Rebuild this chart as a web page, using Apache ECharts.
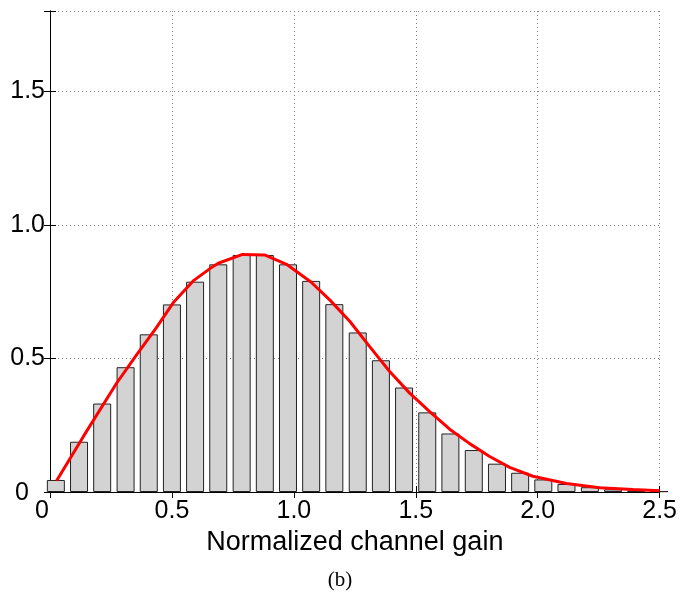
<!DOCTYPE html>
<html>
<head>
<meta charset="utf-8">
<script src="https://cdn.jsdelivr.net/npm/echarts@6/dist/echarts.min.js"></script>
<style>
html,body{margin:0;padding:0;background:#fff;}
#chart{width:680px;height:592px;}
</style>
</head>
<body>
<div id="chart"></div>
<script>
// Histogram bin centres (normalized channel gain)
var binCenters = [0.024, 0.119, 0.214, 0.310, 0.405, 0.500, 0.595, 0.690, 0.786, 0.881,
                  0.976, 1.071, 1.166, 1.262, 1.357, 1.452, 1.547, 1.642, 1.738, 1.833,
                  1.928, 2.023, 2.118, 2.214, 2.309, 2.404, 2.499];
// Histogram heights (pdf estimate)
var binHeights = [0.045, 0.188, 0.331, 0.467, 0.590, 0.702, 0.787, 0.852, 0.887, 0.887,
                  0.852, 0.790, 0.703, 0.597, 0.493, 0.391, 0.298, 0.219, 0.157, 0.106,
                  0.072, 0.047, 0.030, 0.018, 0.010, 0.006, 0.003];
// Theoretical pdf curve (x, y)
var curveX = [0.027, 0.137, 0.273, 0.355, 0.437, 0.505, 0.587, 0.656, 0.690, 0.790,
              0.880, 0.970, 1.070, 1.148, 1.230, 1.311, 1.393, 1.475, 1.557, 1.639,
              1.721, 1.803, 1.885, 1.980, 2.118, 2.254, 2.390, 2.500];
var curveY = [0.042, 0.208, 0.407, 0.513, 0.616, 0.708, 0.790, 0.836, 0.856, 0.889,
              0.887, 0.852, 0.786, 0.718, 0.638, 0.544, 0.451, 0.370, 0.301, 0.235,
              0.181, 0.133, 0.092, 0.059, 0.032, 0.016, 0.009, 0.005];
var xTicks = [0, 0.5, 1.0, 1.5, 2.0, 2.5];
var yTicks = [0, 0.5, 1.0, 1.5];
var xLabel = 'Normalized channel gain';
var caption = '(b)';

var barData = binCenters.map(function (x, i) { return [x, binHeights[i]]; });
var lineData = curveX.map(function (x, i) { return [x, curveY[i]]; });

var FONT = '"Liberation Sans", Arial, Helvetica, sans-serif';

function fmt(v, list) {
  for (var i = 0; i < list.length; i++) {
    if (Math.abs(list[i] - v) < 1e-9) {
      return v === 0 ? '{z|0}' : v.toFixed(1);
    }
  }
  return '';
}

var chart = echarts.init(document.getElementById('chart'), null, {renderer: 'canvas'});
chart.setOption({
  animation: false,
  backgroundColor: '#ffffff',
  grid: {left: 50, right: 20, top: 11, bottom: 100, containLabel: false},
  xAxis: [{
    type: 'value', position: 'bottom', min: 0, max: 2.5, interval: 0.5,
    name: xLabel, nameLocation: 'middle', nameGap: 26,
    nameTextStyle: {fontFamily: FONT, fontSize: 27, color: '#000'},
    axisLine: {show: true, lineStyle: {color: '#000', width: 1}},
    axisTick: {show: true, inside: true, length: 6, lineStyle: {color: '#000'}},
    axisLabel: {
      fontFamily: FONT, fontSize: 25, color: '#000', margin: 7,
      formatter: function (v) { return fmt(v, xTicks); },
      rich: {z: {fontFamily: FONT, fontSize: 25, color: '#000', padding: [0, 16, 0, 0]}}
    },
    splitLine: {show: true, lineStyle: {color: '#808080', type: [1, 3], width: 1}}
  }, {
    type: 'value', position: 'top', min: 0, max: 2.5, interval: 0.5,
    axisLine: {show: true, lineStyle: {color: '#000', width: 1}},
    axisTick: {show: true, inside: true, length: 6, lineStyle: {color: '#000'}},
    axisLabel: {show: false},
    splitLine: {show: false}
  }],
  yAxis: [{
    type: 'value', position: 'left', min: 0, max: 1.8, interval: 0.5,
    axisLine: {show: true, lineStyle: {color: '#000', width: 1}},
    axisTick: {show: true, inside: true, length: 6, lineStyle: {color: '#000'}},
    axisLabel: {
      fontFamily: FONT, fontSize: 25, color: '#000', margin: 5,
      formatter: function (v) { return fmt(v, yTicks); },
      rich: {z: {fontFamily: FONT, fontSize: 25, color: '#000', padding: [3, 16, 0, 0]}}
    },
    splitLine: {show: true, lineStyle: {color: '#808080', type: [1, 3], width: 1}}
  }, {
    type: 'value', position: 'right', min: 0, max: 1.8, interval: 0.5,
    axisLine: {show: true, lineStyle: {color: '#000', width: 1}},
    axisTick: {show: true, inside: true, length: 6, lineStyle: {color: '#000'}},
    axisLabel: {show: false},
    splitLine: {show: false}
  }],
  series: [{
    type: 'bar',
    xAxisIndex: 0, yAxisIndex: 0,
    data: barData,
    barWidth: 18,
    clip: true,
    itemStyle: {color: '#d3d3d3', borderColor: '#222222', borderWidth: 1},
    z: 2
  }, {
    type: 'line',
    xAxisIndex: 0, yAxisIndex: 0,
    data: lineData,
    showSymbol: false,
    symbol: 'none',
    smooth: false,
    lineStyle: {color: '#ff0000', width: 3},
    z: 3
  }],
  graphic: [{
    type: 'text',
    left: 'center',
    top: 570,
    style: {text: caption, font: '21px "Liberation Serif", "Times New Roman", serif', fill: '#000', x: 4}
  }]
});
</script>
</body>
</html>
